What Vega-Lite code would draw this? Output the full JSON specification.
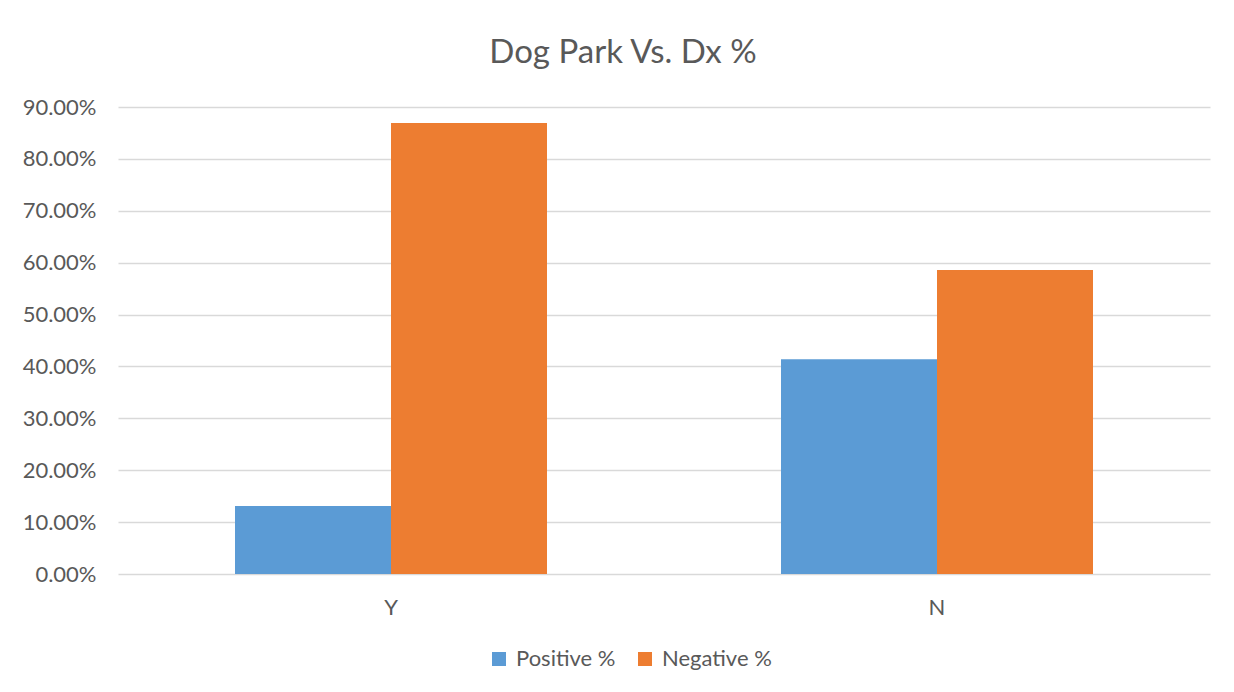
{
  "$schema": "https://vega.github.io/schema/vega-lite/v6.json",
  "autosize": {"type": "none"},
  "width": 1092,
  "height": 467,
  "padding": {"left": 118, "top": 107, "right": 24, "bottom": 118},
  "background": "white",
  "title": {
    "text": "Dog Park Vs. Dx %",
    "font": "Lato",
    "fontSize": 33,
    "fontWeight": "normal",
    "color": "#595959",
    "anchor": "middle",
    "dx": -41,
    "offset": 26
  },
  "data": {
    "values": [
      {"group": "Y", "series": "Positive %", "value": 0.131},
      {"group": "Y", "series": "Negative %", "value": 0.869},
      {"group": "N", "series": "Positive %", "value": 0.414},
      {"group": "N", "series": "Negative %", "value": 0.586}
    ]
  },
  "mark": {"type": "bar"},
  "encoding": {
    "x": {
      "field": "group",
      "type": "nominal",
      "sort": ["Y", "N"],
      "scale": {"paddingInner": 0, "paddingOuter": 0},
      "axis": {
        "title": null,
        "labelAngle": 0,
        "ticks": false,
        "domain": false,
        "labelFont": "Lato",
        "labelFontSize": 22,
        "labelColor": "#595959",
        "labelPadding": 23
      }
    },
    "xOffset": {
      "field": "series",
      "type": "nominal",
      "sort": ["Positive %", "Negative %"],
      "scale": {"paddingInner": 0, "paddingOuter": 0.75}
    },
    "y": {
      "field": "value",
      "type": "quantitative",
      "scale": {"domain": [0, 0.9], "nice": false},
      "axis": {
        "title": null,
        "format": ".2%",
        "values": [0, 0.1, 0.2, 0.3, 0.4, 0.5, 0.6, 0.7, 0.8, 0.9],
        "ticks": false,
        "domain": false,
        "gridColor": "#d9d9d9",
        "gridWidth": 1.5,
        "labelFont": "Lato",
        "labelFontSize": 22,
        "labelColor": "#595959",
        "labelPadding": 22
      }
    },
    "color": {
      "field": "series",
      "type": "nominal",
      "sort": ["Positive %", "Negative %"],
      "scale": {"domain": ["Positive %", "Negative %"], "range": ["#5B9BD5", "#ED7D31"]},
      "legend": {
        "title": null,
        "orient": "none",
        "direction": "horizontal",
        "legendX": 370,
        "legendY": 541,
        "symbolType": "square",
        "symbolSize": 196,
        "symbolStrokeWidth": 0,
        "labelFont": "Lato",
        "labelFontSize": 22,
        "labelColor": "#595959",
        "columnPadding": 18,
        "labelOffset": 6
      }
    }
  },
  "config": {
    "view": {"stroke": null},
    "axisX": {"grid": false}
  }
}
